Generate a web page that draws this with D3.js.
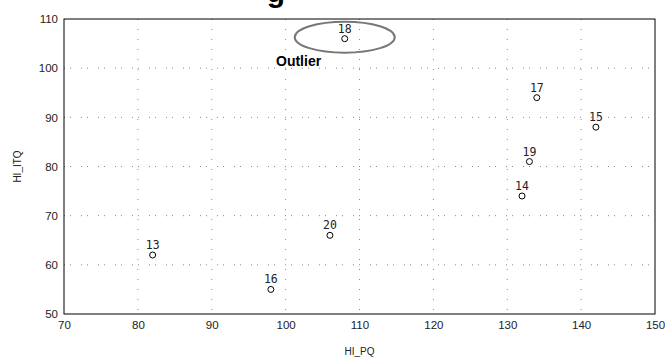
<style>body { margin: 0; }</style>
<svg width="665" height="360"></svg>

<script src="https://d3js.org/d3.v7.min.js"></script>
<script>
	// case numbers with their HI_PQ / HI_ITQ scores
	const cases = ["13", "14", "15", "16", "17", "18", "19", "20"]
	const hiPQ  = [82, 132, 142, 98, 134, 108, 133, 106]
	const hiITQ = [62, 74, 88, 55, 94, 106, 81, 66]
	const xTicks = [70, 80, 90, 100, 110, 120, 130, 140, 150]
	const yTicks = [50, 60, 70, 80, 90, 100, 110]
	const outlierCase = "18"

	const data = cases.map((c, i) => ({name: c, x: hiPQ[i], y: hiITQ[i]}))

	const plotL = 64, plotR = 655, plotT = 19, plotB = 314

	const x = d3.scaleLinear().domain([70, 150]).range([plotL, plotR])
	const y = d3.scaleLinear().domain([50, 110]).range([plotB, plotT])

	const svg = d3.select(document.querySelector('svg'))
		.attr("font-family", "Arial, 'Liberation Sans', sans-serif")
		.style("background", "#fff")
		.style("display", "block")

	// cut-off title, only the descender of a "g" shows (as in the original crop)
	svg.append("text")
		.attr("x", 276).attr("y", 2)
		.attr("text-anchor", "middle")
		.attr("font-size", 30).attr("font-weight", "bold")
		.text("g")

	// dotted grid
	svg.append("g")
		.selectAll("line")
		.data(xTicks.slice(1, -1))
		.join("line")
			.attr("x1", d => x(d)).attr("x2", d => x(d))
			.attr("y1", plotT).attr("y2", plotB)
			.attr("stroke", "#888")
			.attr("stroke-dasharray", "1,9")

	svg.append("g")
		.selectAll("line")
		.data(yTicks.slice(1, -1))
		.join("line")
			.attr("y1", d => y(d)).attr("y2", d => y(d))
			.attr("x1", plotL).attr("x2", plotR)
			.attr("stroke", "#888")
			.attr("stroke-dasharray", "1,5,1,10")

	// axes: labels only, frame drawn separately
	const xAxis = svg.append("g")
		.attr("transform", `translate(0,${plotB})`)
		.call(d3.axisBottom(x).tickValues(xTicks).tickSize(0).tickPadding(7))
	const yAxis = svg.append("g")
		.attr("transform", `translate(${plotL},0)`)
		.call(d3.axisLeft(y).tickValues(yTicks).tickSize(0).tickPadding(6))
	;[xAxis, yAxis].forEach(a => {
		a.select(".domain").remove()
		a.selectAll("text").attr("font-size", 11.5).attr("fill", "#222")
			.attr("font-family", "Arial, 'Liberation Sans', sans-serif")
	})

	svg.append("rect")
		.attr("x", plotL).attr("y", plotT)
		.attr("width", plotR - plotL).attr("height", plotB - plotT)
		.attr("fill", "none").attr("stroke", "#000")

	svg.append("text")
		.attr("x", (plotL + plotR) / 2).attr("y", 355)
		.attr("text-anchor", "middle").attr("font-size", 10).attr("fill", "#222")
		.text("HI_PQ")

	svg.append("text")
		.attr("transform", `translate(21,${(plotT + plotB) / 2}) rotate(-90)`)
		.attr("text-anchor", "middle").attr("font-size", 10).attr("fill", "#222")
		.text("HI_ITQ")

	// points + case labels
	const pt = svg.append("g")
		.selectAll("g")
		.data(data)
		.join("g")
			.attr("transform", d => `translate(${x(d.x)},${y(d.y)})`)

	pt.append("circle")
		.attr("r", 3)
		.attr("fill", "#fff")
		.attr("stroke", "#000")

	pt.append("text")
		.attr("y", -6)
		.attr("text-anchor", "middle")
		.attr("font-family", "'DejaVu Sans Mono', monospace")
		.attr("font-size", 11.5)
		.attr("fill", "#222")
		.text(d => d.name)

	// outlier annotation
	const o = data.find(d => d.name === outlierCase)
	svg.append("ellipse")
		.attr("cx", x(o.x)).attr("cy", y(o.y) - 1.5)
		.attr("rx", 50).attr("ry", 15.5)
		.attr("fill", "none")
		.attr("stroke", "#777")
		.attr("stroke-width", 2)

	svg.append("text")
		.attr("x", 276).attr("y", 66)
		.attr("font-size", 14).attr("font-weight", "bold")
		.text("Outlier")
</script>
